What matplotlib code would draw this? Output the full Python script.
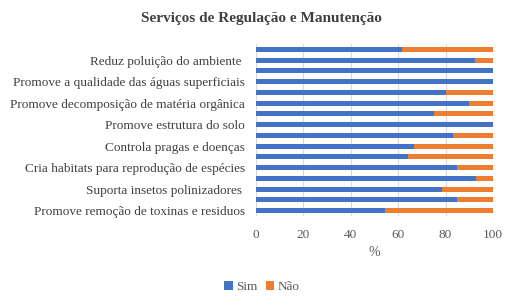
import matplotlib
matplotlib.use("Agg")
from matplotlib import pyplot as plt
import numpy as np

# categorias de baixo para cima (só metade tem rótulo visível)
categorias = ["Promove remoção de toxinas e residuos", "",
              "Suporta insetos polinizadores ", "",
              "Cria habitats para reprodução de espécies", "",
              "Controla pragas e doenças", "",
              "Promove estrutura do solo", "",
              "Promove decomposição de matéria orgânica", "",
              "Promove a qualidade das águas superficiais", "",
              "Reduz poluição do ambiente ", ""]
sim = [54.4, 85, 78.6, 93, 85, 64.2, 66.7, 83.2,
       100, 75, 90, 80, 100, 100, 92.5, 61.6]
nao = [100 - v for v in sim]

plt.rcParams['font.family'] = ['Liberation Serif', 'DejaVu Serif']

fig = plt.figure(figsize=(5.18, 3.06), dpi=100)
ax = fig.add_axes([256/518, 1 - 216/306, (493-256)/518, (216-44)/306])

y = np.arange(len(sim))
ax.barh(y, sim, height=0.47, color='#4472c4', label='Sim', zorder=3)
ax.barh(y, nao, left=sim, height=0.47, color='#ed7d31', label='Não', zorder=3)

ax.set_xlim(0, 100)
ax.set_ylim(-0.5, len(sim) - 0.5)
ax.set_xticks([0, 20, 40, 60, 80, 100])
ax.set_yticks(y)
ax.set_yticklabels(categorias, fontsize=9.5, color='#404040')
ax.tick_params(axis='x', labelsize=9.5, labelcolor='#595959', length=0, pad=9)
ax.tick_params(axis='y', length=0, pad=8)
ax.grid(axis='x', color='#d9d9d9', linewidth=0.8, zorder=0)
for s in ax.spines.values():
    s.set_visible(False)

ax.set_xlabel('%', fontsize=10, color='#595959', labelpad=4)
fig.suptitle('Serviços de Regulação e Manutenção', x=0.505, y=0.96,
             fontsize=11, fontweight='bold', color='#404040')

fig.legend(loc='center', bbox_to_anchor=(262/518, 1 - 287/306), ncol=2,
           frameon=False, fontsize=9.5, handlelength=0.65, handleheight=0.65,
           handletextpad=0.25, columnspacing=0.6, labelcolor='#595959')

fig.savefig('out.png', dpi=100)
